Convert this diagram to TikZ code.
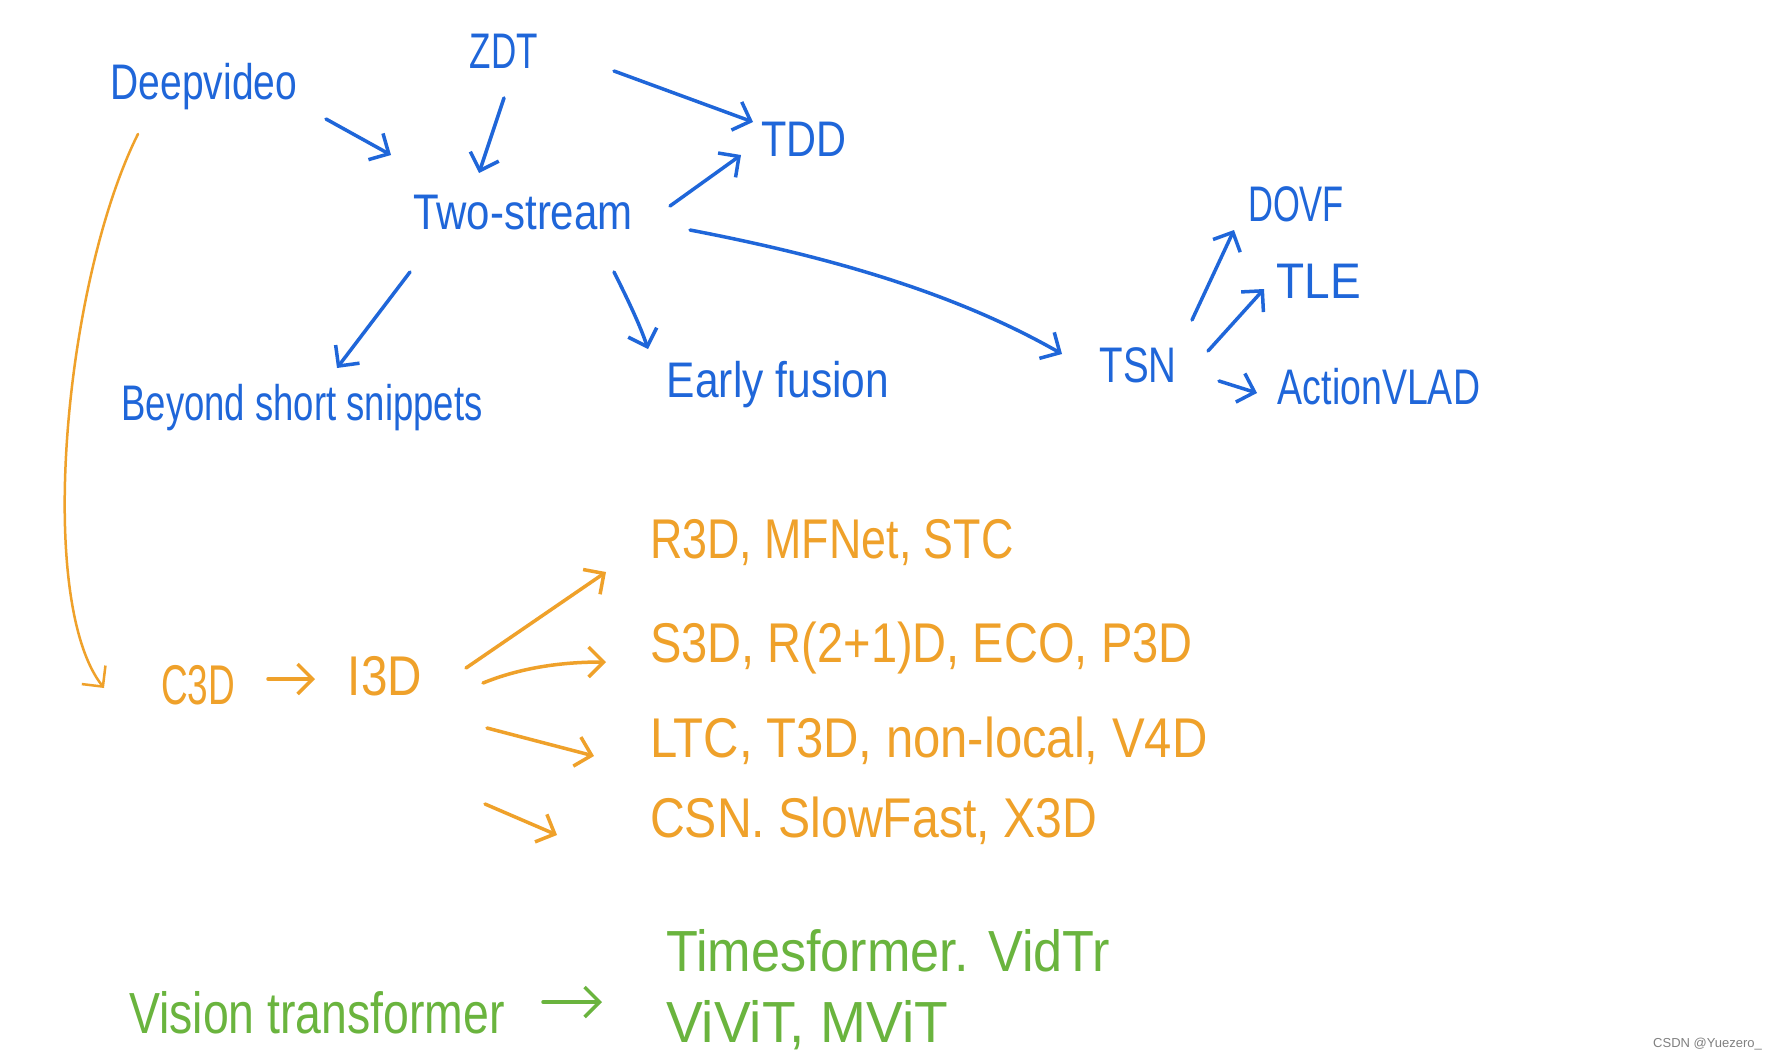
\documentclass[tikz,border=0pt]{standalone}
\usepackage{fontspec}
\setmainfont{Liberation Sans}
\usetikzlibrary{arrows.meta,calc}
\definecolor{hblue}{HTML}{1F66D9}
\definecolor{horange}{HTML}{EFA12A}
\definecolor{hgreen}{HTML}{6AB43E}
\newcommand{\hwtext}[2]{\scalebox{#1}[1]{#2}}
\begin{document}
\begin{tikzpicture}[x=1pt,y=-1pt,
  blu/.style={text=hblue, font=\fontsize{50}{50}\selectfont, inner sep=2pt},
  org/.style={text=horange, font=\fontsize{56}{56}\selectfont, inner sep=2pt},
  grn/.style={text=hgreen, font=\fontsize{58}{58}\selectfont, inner sep=2pt},
  pen/.style={line width=3.5pt, line cap=round, line join=round, -{Straight Barb[length=15pt,width=30pt]}},
  barr/.style={pen, draw=hblue},
  oarr/.style={pen, draw=horange},
  garr/.style={pen, draw=hgreen}
]
\fill[white] (0,0) rectangle (1775,1061);
\useasboundingbox (0,0) rectangle (1775,1061);

% blue nodes
\node[blu] (dv) at (204,87) {\hwtext{0.78}{Deepvideo}};
\node[blu] (zdt) at (504,51) {\hwtext{0.70}{ZDT}};
\node[blu] (tdd) at (804,139) {\hwtext{0.83}{TDD}};
\node[blu] (ts) at (523,213) {\hwtext{0.84}{Two-stream}};
\node[blu] (bss) at (302,408) {\hwtext{0.73}{Beyond short snippets}};
\node[blu] (ef) at (778,385) {\hwtext{0.85}{Early fusion}};
\node[blu] (tsn) at (1138,365) {\hwtext{0.77}{TSN}};
\node[blu] (dovf) at (1296,204) {\hwtext{0.69}{DOVF}};
\node[blu] (tle) at (1319,281) {\hwtext{0.92}{TLE}};
\node[blu] (avlad) at (1379,387) {\hwtext{0.75}{ActionVLAD}};

% orange nodes
\node[org] (c3d) at (198,685) {\hwtext{0.66}{C3D}};
\node[org] (i3d) at (385,676) {\hwtext{0.85}{I3D}};
\node[org, anchor=west] (r3d) at (648,543) {\hwtext{0.80}{R3D, MFNet, STC}};
\node[org, anchor=west] (s3d) at (648,648) {\hwtext{0.84}{S3D, R(2+1)D, ECO, P3D}};
\node[org, anchor=west] (ltc) at (648,741) {\hwtext{0.875}{LTC, T3D, non-local, V4D}};
\node[org, anchor=west] (csn) at (648,821) {\hwtext{0.86}{CSN. SlowFast, X3D}};

% green nodes
\node[grn] (vt) at (317,1013) {\hwtext{0.80}{Vision transformer}};
\node[grn, anchor=west] (tf) at (664,951) {\hwtext{0.90}{Timesformer. VidTr}};
\node[grn, anchor=west] (vv) at (664,1025) {\hwtext{0.95}{ViViT, MViT}};

% watermark
\node[text=gray, font=\fontsize{13}{13}\selectfont, anchor=east, inner sep=0pt] (wm) at (1762,1044) {CSDN @Yuezero\_};

% blue connectors
\draw[barr] ([shift={(122,32)}]dv.center) -- ([shift={(-132,-58)}]ts.center);
\draw[barr] ([shift={(0,47)}]zdt.center) -- ([shift={(-44,-40)}]ts.center);
\draw[barr] ([shift={(110,20)}]zdt.center) -- ([shift={(-51,-17)}]tdd.center);
\draw[barr] ([shift={(147,-7)}]ts.center) -- ([shift={(-63,16)}]tdd.center);
\draw[barr] ([shift={(167,17)}]ts.center) .. controls (820,255) and (950,290) .. ([shift={(-76,-11)}]tsn.center);
\draw[barr] ([shift={(-113,59)}]ts.center) -- ([shift={(35,-40)}]bss.center);
\draw[barr] ([shift={(91,59)}]ts.center) .. controls (628,300) and (640,325) .. ([shift={(-130,-36)}]ef.center);
\draw[barr] ([shift={(54,-45)}]tsn.center) -- ([shift={(-62,26)}]dovf.center);
\draw[barr] ([shift={(70,-14)}]tsn.center) -- ([shift={(-55,8)}]tle.center);
\draw[barr] ([shift={(81,16)}]tsn.center) -- ([shift={(-122,6)}]avlad.center);

% orange connectors
\draw[oarr, line width=2.5pt] ([shift={(-66,47)}]dv.center) .. controls (65,280) and (35,600) .. ([shift={(-94,3)}]c3d.center);
\draw[oarr] ([shift={(70,-6)}]c3d.center) -- ([shift={(-70,3)}]i3d.center);
\draw[oarr] ([shift={(81,-8)}]i3d.center) -- ([shift={(-42,29)}]r3d.west);
\draw[oarr] ([shift={(98,7)}]i3d.center) .. controls (520,668) and (560,662) .. ([shift={(-42,14)}]s3d.west);
\draw[oarr] ([shift={(102,52)}]i3d.center) -- ([shift={(-54,15)}]ltc.west);
\draw[oarr] ([shift={(100,128)}]i3d.center) -- ([shift={(-91,14)}]csn.west);

% green connector
\draw[garr] ([shift={(226,-11)}]vt.center) -- ([shift={(-62,51)}]tf.west);
\end{tikzpicture}
\end{document}
